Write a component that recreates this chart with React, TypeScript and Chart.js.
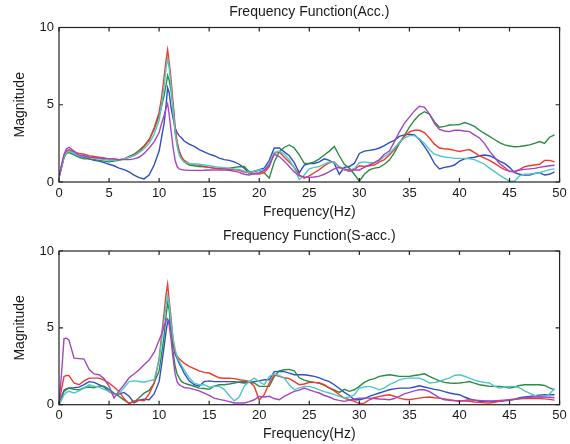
import React, { useEffect, useRef } from "react";
import { Chart, registerables } from "chart.js";

Chart.register(...registerables);

const FREQ = [
  0, 0.25, 0.5, 0.75, 1, 1.5, 2, 2.5, 3, 3.5, 4, 4.5, 5, 5.5, 6, 6.5, 7, 7.5, 8, 8.5, 9, 9.5, 10,
  10.25, 10.5, 10.7, 10.85, 11, 11.2, 11.4, 11.6, 11.8, 12, 12.25, 12.5,
  13, 13.5, 14, 14.5, 15, 15.5, 16, 16.5, 17, 17.5,
  18, 18.5, 19, 19.5, 20, 20.5, 21, 21.5, 22, 22.5,
  23, 23.5, 24, 24.5, 25, 25.5, 26, 26.5, 27, 27.5,
  28, 28.5, 29, 29.5, 30, 30.5, 31, 31.5, 32, 32.5,
  33, 33.5, 34, 34.5, 35, 35.5, 36, 36.5, 37, 37.5,
  38, 38.5, 39, 39.5, 40, 40.5, 41, 41.5, 42, 42.5,
  43, 43.5, 44, 44.5, 45, 45.5, 46, 46.5, 47, 47.5,
  48, 48.5, 49, 49.5,
];

const SERIES_COLORS = ["#2f4fc2", "#2e8b45", "#f2392b", "#4cc8c8", "#a445c4"];
const SERIES_NAMES = ["Sensor 1", "Sensor 2", "Sensor 3", "Sensor 4", "Sensor 5"];

const X_MIN = 0;
const X_MAX = 50;
const X_STEP = 5;
const Y_MIN = 0;
const Y_MAX = 10;
const Y_STEP = 5;

const TITLE_ACC = "Frequency Function(Acc.)";
const TITLE_SACC = "Frequency Function(S-acc.)";
const X_LABEL = "Frequency(Hz)";
const Y_LABEL = "Magnitude";

// ---- Top panel: Acc. ----
const ACC_BLUE = [
  0.3, 0.9, 1.6, 1.9, 2.0, 1.85, 1.7, 1.6, 1.5, 1.4, 1.35, 1.25, 1.15, 1.05, 0.9, 0.8, 0.65, 0.45, 0.28, 0.2, 0.45, 1.1, 2.0,
  2.9, 3.8, 5.0, 6.1, 5.8, 4.8, 4.1, 3.5, 3.2, 3.0, 2.85, 2.65,
  2.45, 2.3, 2.1, 1.95, 1.8, 1.7, 1.55, 1.45, 1.4, 1.3,
  1.15, 0.9, 0.55, 0.7, 0.8, 0.9, 1.4, 2.2, 2.2, 1.95,
  1.7, 1.25, 0.6, 1.1, 1.2, 1.2, 1.3, 1.5, 1.4, 1.2,
  0.5, 0.95, 1.0, 1.2, 1.85, 2.0, 2.05, 2.1, 2.2, 2.35,
  2.55, 2.7, 2.95, 3.05, 3.1, 3.05, 2.75, 2.3, 1.8, 1.2,
  0.85, 0.95, 1.0, 1.1, 1.35, 1.5, 1.55, 1.6, 1.7, 1.75,
  1.7, 1.55, 1.35, 1.2, 0.95, 0.6, 0.5, 0.45, 0.45, 0.55,
  0.6, 0.45, 0.5, 0.65,
];
const ACC_GREEN = [
  0.3, 1.0, 1.6, 1.85, 1.9, 1.75, 1.6, 1.5, 1.5, 1.45, 1.4, 1.35, 1.3, 1.35, 1.4, 1.5, 1.65, 1.8, 2.05, 2.35, 2.75, 3.4, 4.3,
  4.9, 5.6, 6.3, 6.9, 6.6, 5.9, 4.8, 3.2, 2.5, 2.0, 1.6, 1.3,
  1.1, 1.05, 1.0, 0.98, 0.95, 0.9, 0.88, 0.88, 0.9, 0.95,
  0.99, 1.0, 0.67, 0.67, 0.75, 0.6, 0.25, 1.3, 1.95, 2.25,
  2.4, 2.2, 1.75, 1.21, 1.2, 1.3, 1.5, 1.75, 2.0, 2.3,
  1.7, 1.15, 0.9, 0.5, 0.05, 0.5, 0.78, 0.9, 0.95, 1.15,
  1.42, 1.9, 2.5, 3.0, 3.55, 4.0, 4.35, 4.55, 4.4, 3.9,
  3.55, 3.6, 3.69, 3.7, 3.72, 3.85, 3.75, 3.6, 3.35, 3.15,
  2.95, 2.75, 2.55, 2.4, 2.33, 2.28, 2.3, 2.35, 2.4, 2.5,
  2.62, 2.5, 2.9, 3.05,
];
const ACC_RED = [
  0.3, 1.0, 1.7, 2.0, 2.1, 1.95, 1.85, 1.8, 1.7, 1.65, 1.6, 1.55, 1.5, 1.5, 1.45, 1.5, 1.6, 1.75, 1.95, 2.3, 2.7, 3.5, 4.5,
  5.5, 6.8, 7.9, 8.55, 7.8, 6.6, 5.1, 3.6, 2.6, 2.0, 1.6, 1.4,
  1.2, 1.15, 1.1, 1.0, 0.95, 0.9, 0.85, 0.85, 0.8, 0.8,
  0.75, 0.65, 0.6, 0.52, 0.52, 0.6, 1.0, 1.85, 1.95, 1.6,
  1.3, 0.95, 0.45, 0.25, 0.4, 0.6, 0.8, 1.05, 1.25, 1.3,
  0.95, 0.78, 0.68, 0.8, 1.05, 1.0, 1.05, 1.1, 1.3, 1.45,
  1.75, 2.1, 2.55, 2.95, 3.25, 3.35, 3.35, 3.2, 2.85, 2.45,
  2.2, 2.15, 2.12, 2.05, 1.98, 2.05, 2.1, 1.9, 1.7, 1.55,
  1.4, 1.2, 1.0, 0.8, 0.7, 0.65, 0.8, 1.0, 1.05, 1.1,
  1.15, 1.4, 1.4, 1.3,
];
const ACC_CYAN = [
  0.3, 1.0, 1.6, 1.9, 2.0, 1.85, 1.7, 1.65, 1.6, 1.55, 1.5, 1.45, 1.4, 1.4, 1.45, 1.5, 1.6, 1.7, 1.9, 2.15, 2.5, 3.1, 4.0,
  5.0, 6.2, 7.4, 8.0, 7.4, 6.2, 4.6, 3.2, 2.3, 1.75, 1.45, 1.3,
  1.2, 1.15, 1.15, 1.1, 1.05, 1.0, 0.95, 0.93, 0.9, 0.85,
  0.82, 0.7, 0.6, 0.7, 0.78, 0.82, 1.2, 1.9, 2.0, 1.8,
  1.45, 0.9, 0.15, 0.45, 0.85, 0.95, 1.0, 1.15, 1.3, 1.25,
  1.0, 0.8, 0.73, 0.88, 1.25, 1.3, 1.25, 1.25, 1.4, 1.65,
  1.85, 2.2, 2.55, 2.85, 3.0, 3.0, 2.8, 2.5, 2.1, 1.8,
  1.7, 1.62, 1.58, 1.53, 1.53, 1.53, 1.5, 1.45, 1.3, 1.15,
  0.9, 0.67, 0.45, 0.25, 0.05, 0.05, 0.4, 0.5, 0.52, 0.55,
  0.6, 0.7, 0.8, 0.85,
];
const ACC_PURPLE = [
  0.3, 1.1, 1.8, 2.15, 2.25, 2.0, 1.75, 1.7, 1.6, 1.58, 1.55, 1.52, 1.5, 1.48, 1.45, 1.45, 1.45, 1.5, 1.6, 1.85, 2.2, 2.6, 3.2,
  3.8, 4.3, 4.8, 5.05, 4.4, 3.3, 2.2, 1.4, 1.0, 0.85, 0.8, 0.78,
  0.75, 0.75, 0.75, 0.76, 0.78, 0.78, 0.78, 0.78, 0.75, 0.7,
  0.62, 0.5, 0.45, 0.55, 0.6, 0.75, 1.1, 1.8, 1.65, 1.35,
  1.0, 0.65, 0.4, 0.33, 0.3, 0.32, 0.38, 0.5, 0.67, 0.85,
  0.95, 0.85, 0.78, 0.78, 0.78, 0.95, 1.1, 1.25, 1.45, 1.8,
  2.0, 2.6, 3.25, 3.8, 4.2, 4.6, 4.9, 4.85, 4.4, 3.8,
  3.4, 3.3, 3.26, 3.35, 3.35, 3.3, 3.26, 3.05, 2.85, 2.5,
  2.0, 1.6, 1.2, 0.95, 0.67, 0.7, 0.78, 0.82, 0.85, 0.88,
  0.95, 1.0, 1.05, 1.08,
];

// ---- Bottom panel: S-acc. ----
const SACC_BLUE = [
  0.0, 0.5, 0.95, 1.05, 1.08, 1.1, 1.14, 1.3, 1.5, 1.45, 1.3, 1.15, 0.85, 0.7, 0.7, 0.8, 0.55, 0.12, 0.3, 0.35, 0.32, 0.7, 1.5,
  2.6, 3.8, 4.8, 5.4, 5.5, 4.8, 4.0, 3.3, 3.0, 2.7, 2.4, 2.05,
  1.55, 1.3, 1.2, 1.5, 1.55, 1.5, 1.5, 1.5, 1.5, 1.5,
  1.45, 1.41, 1.45, 1.5, 1.55, 1.62, 1.62, 2.15, 2.16, 2.15,
  2.05, 1.95, 1.95, 1.95, 1.9, 1.84, 1.75, 1.62, 1.5, 1.3,
  1.05, 0.8, 0.6, 0.32, 0.32, 0.4, 0.54, 0.65, 0.76, 0.87,
  0.97, 1.03, 1.08, 1.08, 1.08, 1.15, 1.23, 1.15, 1.08, 1.0,
  0.95, 0.85, 0.76, 0.7, 0.65, 0.5, 0.37, 0.3, 0.22, 0.22,
  0.22, 0.22, 0.22, 0.25, 0.28, 0.35, 0.45, 0.5, 0.54, 0.58,
  0.62, 0.65, 0.65, 0.65,
];
const SACC_GREEN = [
  0.0, 0.4, 0.87, 1.0, 1.08, 1.0, 0.97, 1.1, 1.15, 1.1, 1.22, 1.2, 1.0, 0.76, 0.54, 0.3, 0.11, 0.18, 0.45, 0.75, 0.93, 1.41, 2.2,
  3.3, 4.5, 5.8, 6.6, 6.2, 4.8, 3.4, 2.5, 2.0, 1.75, 1.5, 1.4,
  1.3, 1.2, 1.08, 1.05, 1.0, 1.2, 1.3, 1.3, 1.35, 1.41,
  1.48, 1.51, 1.45, 1.41, 1.19, 1.19, 1.19, 1.84, 2.2, 2.27,
  2.3, 2.2, 1.75, 1.6, 1.51, 1.45, 1.41, 1.25, 1.1, 0.97,
  0.8, 1.0, 0.87, 0.97, 1.19, 1.45, 1.62, 1.7, 1.84, 1.9,
  1.95, 1.9, 1.84, 1.84, 1.84, 1.9, 1.95, 2.01, 1.85, 1.7,
  1.55, 1.45, 1.41, 1.4, 1.41, 1.45, 1.51, 1.4, 1.3, 1.25,
  1.19, 1.19, 1.19, 1.15, 1.08, 1.15, 1.25, 1.3, 1.3, 1.3,
  1.3, 1.25, 1.1, 0.97,
];
const SACC_RED = [
  0.1, 1.0, 1.84, 1.9, 1.89, 1.41, 1.3, 1.55, 1.73, 1.73, 1.73, 1.6, 1.4, 1.15, 0.85, 0.4, 0.05, 0.25, 0.3, 0.26, 0.7, 1.4, 3.0,
  4.5, 6.0, 7.2, 7.84, 6.8, 5.6, 4.1, 3.4, 3.15, 3.0, 2.85, 2.7,
  2.5, 2.35, 2.2, 2.1, 2.06, 1.9, 1.75, 1.72, 1.73, 1.7,
  1.62, 1.58, 1.51, 1.2, 0.3, 0.65, 1.41, 1.95, 1.84, 1.75,
  1.7, 1.5, 1.3, 1.35, 1.45, 1.45, 1.41, 1.3, 1.08, 0.9,
  0.65, 0.43, 0.32, 0.22, 0.07, 0.1, 0.32, 0.45, 0.54, 0.6,
  0.65, 0.55, 0.43, 0.35, 0.32, 0.38, 0.43, 0.48, 0.5, 0.45,
  0.43, 0.38, 0.32, 0.28, 0.26, 0.24, 0.22, 0.18, 0.15, 0.12,
  0.11, 0.15, 0.22, 0.28, 0.32, 0.35, 0.38, 0.4, 0.4, 0.42,
  0.4, 0.38, 0.35, 0.3,
];
const SACC_CYAN = [
  0.0, 0.3, 0.65, 0.8, 0.87, 0.76, 0.9, 1.08, 1.3, 1.2, 1.14, 1.0, 0.87, 0.65, 0.75, 1.1, 1.5, 1.55, 1.51, 1.46, 1.55, 1.62, 2.9,
  4.2, 5.5, 6.5, 7.1, 6.6, 5.3, 4.3, 3.6, 3.1, 2.85, 2.55, 2.27,
  1.75, 1.4, 1.3, 1.3, 1.14, 1.2, 1.19, 1.0, 0.6, 0.25,
  0.5, 1.2, 1.5, 1.73, 1.51, 1.3, 1.84, 2.0, 1.9, 1.73,
  1.3, 0.97, 1.1, 1.19, 1.19, 1.1, 0.97, 0.85, 0.76, 0.65,
  0.54, 0.43, 0.5, 0.65, 1.08, 1.15, 1.19, 1.1, 0.97, 1.1,
  1.3, 1.45, 1.62, 1.7, 1.73, 1.73, 1.73, 1.6, 1.41, 1.45,
  1.51, 1.65, 1.73, 1.9, 1.95, 1.85, 1.73, 1.6, 1.51, 1.45,
  1.41, 1.2, 1.08, 1.15, 1.19, 1.19, 1.1, 0.9, 0.76, 0.6,
  0.5, 0.54, 0.7, 1.05,
];
const SACC_PURPLE = [
  0.0, 2.0, 4.3, 4.33, 4.2, 3.03, 3.0, 2.97, 2.3, 2.0, 1.95, 1.7, 1.2, 0.43, 0.9, 1.3, 1.75, 2.0, 2.27, 2.6, 2.9, 3.4, 4.2,
  4.6, 5.1, 5.5, 5.6, 5.2, 4.2, 3.0, 2.0, 1.5, 1.3, 1.2, 1.12,
  1.08, 1.0, 0.9, 0.76, 0.6, 0.43, 0.35, 0.28, 0.2, 0.11,
  0.11, 0.11, 0.2, 0.32, 0.54, 0.5, 0.55, 0.4, 0.32, 0.54,
  0.7, 0.87, 0.95, 1.08, 0.97, 0.85, 0.76, 0.6, 0.5, 0.35,
  0.28, 0.22, 0.3, 0.37, 0.43, 0.43, 0.43, 0.4, 0.37, 0.35,
  0.32, 0.4, 0.54, 0.7, 0.8, 0.9, 0.97, 0.97, 0.85, 0.65,
  0.45, 0.32, 0.28, 0.25, 0.22, 0.28, 0.32, 0.3, 0.28, 0.25,
  0.22, 0.25, 0.28, 0.3, 0.32, 0.35, 0.4, 0.45, 0.48, 0.5,
  0.5, 0.5, 0.48, 0.45,
];

const ACC_SERIES = [ACC_BLUE, ACC_GREEN, ACC_RED, ACC_CYAN, ACC_PURPLE];
const SACC_SERIES = [SACC_BLUE, SACC_GREEN, SACC_RED, SACC_CYAN, SACC_PURPLE];

const FONT_FAMILY = "'Liberation Sans', Arial, Helvetica, sans-serif";
const TEXT_COLOR = "#1a1a1a";

const framePlugin = {
  id: "matlabFrame",
  afterDatasetsDraw(chart: any) {
    const { ctx, chartArea: a, scales } = chart;
    const xs = scales.x;
    const ys = scales.y;
    const len = 4;
    ctx.save();
    ctx.strokeStyle = "#222";
    ctx.lineWidth = 1.2;
    ctx.beginPath();
    xs.ticks.forEach((t: any) => {
      const px = xs.getPixelForValue(t.value);
      ctx.moveTo(px, a.bottom);
      ctx.lineTo(px, a.bottom - len);
      ctx.moveTo(px, a.top);
      ctx.lineTo(px, a.top + len);
    });
    ys.ticks.forEach((t: any) => {
      const py = ys.getPixelForValue(t.value);
      ctx.moveTo(a.left, py);
      ctx.lineTo(a.left + len, py);
      ctx.moveTo(a.right, py);
      ctx.lineTo(a.right - len, py);
    });
    ctx.stroke();
    ctx.strokeRect(a.left, a.top, a.right - a.left, a.bottom - a.top);
    ctx.restore();
  },
};

type PanelProps = {
  title: string;
  series: number[][];
  titleTop: number;
  titleBottom: number;
  xHeight: number;
  xTitleBottom: number;
};

function Panel({ title, series, titleTop, titleBottom, xHeight, xTitleBottom }: PanelProps) {
  const ref = useRef<HTMLCanvasElement | null>(null);
  useEffect(() => {
    if (!ref.current) return;
    const datasets = series.map((vals, si) => ({
      label: SERIES_NAMES[si],
      data: FREQ.map((f, i) => ({ x: f, y: vals[i] })),
      borderColor: SERIES_COLORS[si],
      backgroundColor: SERIES_COLORS[si],
      borderWidth: 1.4,
      pointRadius: 0,
      tension: 0,
      fill: false,
      order: series.length - si,
    }));
    const chart = new Chart(ref.current, {
      type: "line",
      data: { datasets },
      options: {
        animation: false,
        responsive: false,
        devicePixelRatio: 1,
        layout: { padding: { left: 0, right: 8.5, top: 0, bottom: 0 } },
        plugins: {
          legend: { display: false },
          tooltip: { enabled: false },
          title: {
            display: true,
            fullSize: false,
            text: title,
            color: TEXT_COLOR,
            font: { family: FONT_FAMILY, size: 14, weight: "normal" },
            padding: { top: titleTop, bottom: titleBottom },
          },
        },
        scales: {
          x: {
            type: "linear",
            min: X_MIN,
            max: X_MAX,
            grid: { display: false, drawTicks: false },
            border: { display: false },
            ticks: {
              stepSize: X_STEP,
              padding: 3.2,
              color: TEXT_COLOR,
              maxRotation: 0,
              font: { family: FONT_FAMILY, size: 13 },
            },
            title: {
              display: true,
              text: X_LABEL,
              color: TEXT_COLOR,
              font: { family: FONT_FAMILY, size: 14 },
              padding: { top: 0, bottom: xTitleBottom },
            },
            afterFit: (scale: any) => {
              scale.height = xHeight;
            },
          },
          y: {
            type: "linear",
            min: Y_MIN,
            max: Y_MAX,
            grid: { display: false, drawTicks: false },
            border: { display: false },
            ticks: {
              stepSize: Y_STEP,
              padding: 5,
              color: TEXT_COLOR,
              font: { family: FONT_FAMILY, size: 13 },
            },
            title: {
              display: true,
              text: Y_LABEL,
              color: TEXT_COLOR,
              font: { family: FONT_FAMILY, size: 14 },
              padding: { top: 11.6, bottom: 0 },
            },
            afterFit: (scale: any) => {
              scale.width = 59;
            },
          },
        },
      },
      plugins: [framePlugin],
    });
    return () => chart.destroy();
  }, [title, series, titleTop, titleBottom, xHeight, xTitleBottom]);
  return <canvas ref={ref} width={570} height={222} style={{ display: "block", width: 570, height: 222 }} />;
}

export default function App() {
  return (
    <div style={{ position: "fixed", left: 0, top: 0, width: 570, height: 444, background: "#fff" }}>
      <Panel title={TITLE_ACC} series={ACC_SERIES} titleTop={3.6} titleBottom={7.1} xHeight={40} xTitleBottom={1.6} />
      <Panel title={TITLE_SACC} series={SACC_SERIES} titleTop={5.6} titleBottom={6.6} xHeight={39.3} xTitleBottom={1.3} />
    </div>
  );
}
